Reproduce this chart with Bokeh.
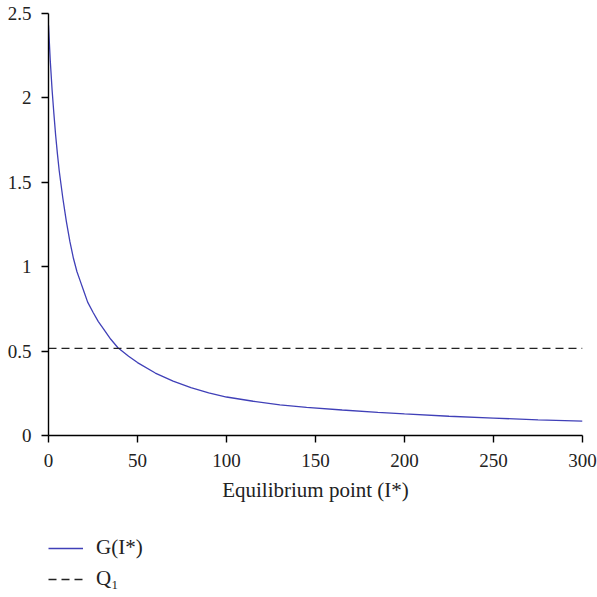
from bokeh.plotting import figure
from bokeh.layouts import column
from bokeh.models import FixedTicker, Legend, LegendItem, Range1d
from bokeh.embed import file_html
from bokeh.resources import INLINE

# Data
x_vals = [0, 1, 2, 3, 4, 5, 6, 7, 8, 9, 10, 12, 14, 16, 18, 20, 22, 25, 28, 30,
          35, 39, 45, 50, 60, 70, 80, 90, 100, 115, 130, 145, 165, 185, 200,
          225, 250, 275, 300]
g_vals = [2.43, 2.22, 2.05, 1.91, 1.78, 1.67, 1.57, 1.49, 1.41, 1.34, 1.27,
          1.15, 1.05, 0.97, 0.91, 0.85, 0.79, 0.73, 0.675, 0.645,
          0.57, 0.52, 0.47, 0.432, 0.37, 0.322, 0.283, 0.253, 0.228, 0.203,
          0.182, 0.167, 0.151, 0.137, 0.128, 0.114, 0.103, 0.093, 0.085]
q1_x = [0, 300]
q1_y = [0.516, 0.516]

x_ticks = [0, 50, 100, 150, 200, 250, 300]
x_tick_labels = ["0", "50", "100", "150", "200", "250", "300"]
y_ticks = [0, 0.5, 1, 1.5, 2, 2.5]
y_tick_labels = ["0", "0.5", "1", "1.5", "2", "2.5"]

series_labels = ["G(I*)", "Q\u2081"]
x_label = "Equilibrium point (I*)"

FONT = "Liberation Serif"
BLUE = "#4040b8"
DARK = "#222222"

p = figure(width=597, height=515, output_backend="svg", toolbar_location=None,
           x_range=Range1d(0, 300), y_range=Range1d(0, 2.5),
           min_border_left=48, min_border_right=15, min_border_top=13,
           min_border_bottom=80)
p.outline_line_color = None
p.xgrid.visible = False
p.ygrid.visible = False

p.line(x_vals, g_vals, line_color=BLUE, line_width=1.3)
p.line(q1_x, q1_y, line_color=DARK, line_width=1.3, line_dash="8 5")

for ax in (p.xaxis[0], p.yaxis[0]):
    ax.axis_line_color = "black"
    ax.axis_line_width = 1.4
    ax.major_tick_line_color = "black"
    ax.major_tick_line_width = 1.4
    ax.major_tick_out = 7
    ax.major_tick_in = 0
    ax.minor_tick_out = 0
    ax.minor_tick_in = 0
    ax.major_label_text_font = FONT
    ax.major_label_text_font_size = "19px"
    ax.major_label_text_color = DARK

p.xaxis[0].ticker = FixedTicker(ticks=x_ticks)
p.xaxis[0].major_label_overrides = dict(zip(x_ticks, x_tick_labels))
p.yaxis[0].ticker = FixedTicker(ticks=y_ticks)
p.yaxis[0].major_label_overrides = dict(zip(y_ticks, y_tick_labels))
p.xaxis[0].major_label_standoff = 11
p.yaxis[0].major_label_standoff = 10

p.xaxis[0].axis_label = x_label
p.xaxis[0].axis_label_text_font = FONT
p.xaxis[0].axis_label_text_font_size = "21px"
p.xaxis[0].axis_label_text_font_style = "normal"
p.xaxis[0].axis_label_text_color = DARK
p.xaxis[0].axis_label_standoff = 8

# Legend panel below the chart (same series, kept out of this panel's view)
p2 = figure(width=597, height=82, output_backend="svg", toolbar_location=None,
            x_axis_type=None, y_axis_type=None,
            x_range=Range1d(0, 300), y_range=Range1d(10, 11),
            min_border_left=0, min_border_right=0, min_border_top=0,
            min_border_bottom=0)
p2.outline_line_color = None
p2.xgrid.visible = False
p2.ygrid.visible = False
lg1 = p2.line(x_vals, g_vals, line_color=BLUE, line_width=1.3)
lg2 = p2.line(q1_x, q1_y, line_color=DARK, line_width=1.3, line_dash="8 5")

legend = Legend(items=[LegendItem(label=series_labels[0], renderers=[lg1]),
                       LegendItem(label=series_labels[1], renderers=[lg2])],
                location=(0, 6), orientation="vertical")
legend.border_line_color = None
legend.background_fill_alpha = 0
legend.padding = 0
legend.margin = 0
legend.spacing = 6
legend.glyph_width = 35
legend.glyph_height = 20
legend.label_height = 20
legend.label_standoff = 13
legend.label_text_font = FONT
legend.label_text_font_size = "21px"
legend.label_text_color = DARK
p2.add_layout(legend)

layout = column(p, p2, spacing=0)
open("out.html", "w").write(file_html(layout, INLINE))
